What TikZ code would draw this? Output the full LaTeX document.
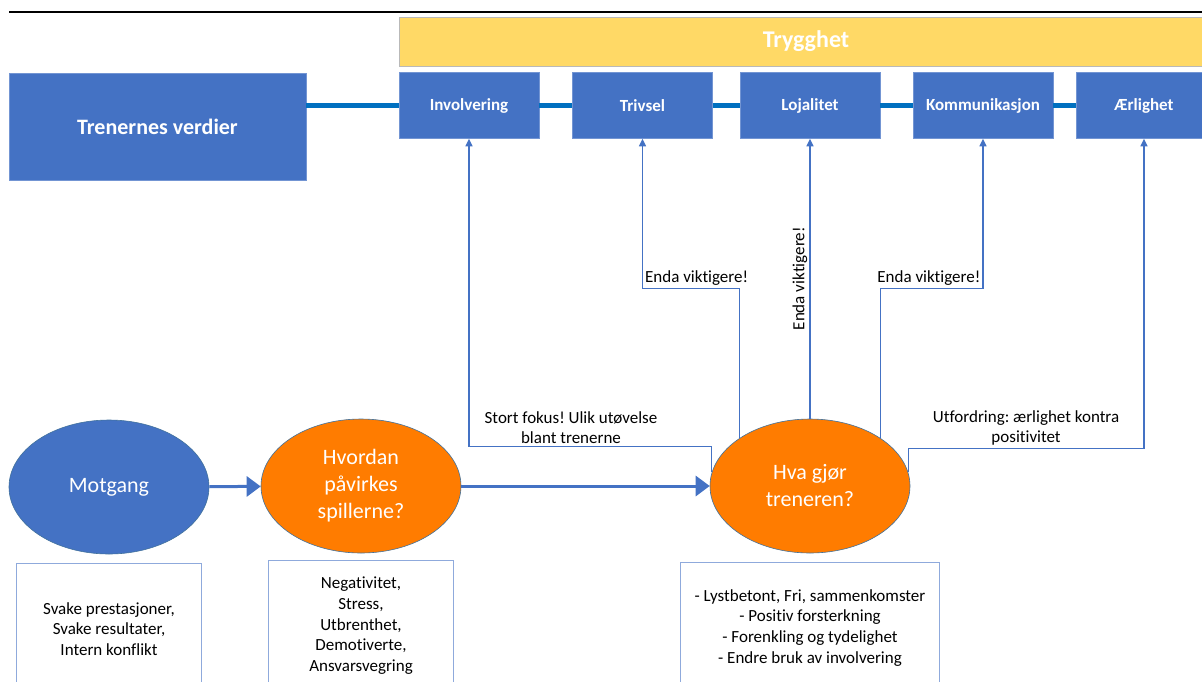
\documentclass[tikz,border=0pt]{standalone}
\usepackage{fontspec}
\setmainfont{Carlito}[Ligatures=NoCommon]
\usetikzlibrary{positioning, shapes.geometric, arrows.meta}
\definecolor{officeblue}{HTML}{4472C4}
\definecolor{barblue}{HTML}{0070C0}
\definecolor{gold}{HTML}{FFD966}
\definecolor{orng}{HTML}{FF7C00}
\definecolor{rimblue}{HTML}{41719C}
\definecolor{boxedge}{HTML}{8FAADC}
\frenchspacing

\begin{document}
\begin{tikzpicture}[x=1pt, y=-1pt,
    value/.style={rectangle, fill=officeblue, draw=officeblue!75!white, line width=0.6pt, text=white,
        font=\fontsize{17}{20}\selectfont\bfseries, minimum width=140pt, minimum height=66pt, inner sep=0pt},
    oval/.style={ellipse, draw=rimblue, line width=0.6pt, text=white, font=\fontsize{22}{27}\selectfont,
        align=center, minimum width=200pt, minimum height=134pt, inner sep=0pt},
    list/.style={rectangle, draw=boxedge, line width=1.1pt, fill=white, font=\fontsize{17}{20.7}\selectfont,
        align=center, minimum height=130pt, inner sep=0pt},
    remark/.style={font=\fontsize{17}{20}\selectfont, align=center, inner sep=2pt},
    link/.style={draw=officeblue, line width=1.3pt, -{Triangle[length=7.5pt,width=7pt]}},
    push/.style={draw=officeblue, line width=3pt, -{Triangle[length=14pt,width=20pt]}},
    bar/.style={draw=barblue, line width=5pt}]
    \useasboundingbox (0,0) rectangle (1202,681);
    \clip (0,0) rectangle (1202,681);
    \draw[line width=2pt] (9,12) -- (1202,12);
    % values on top
    \node[rectangle, fill=gold, draw=gray!55, line width=0.8pt, text=white, font=\fontsize{24}{28}\selectfont\bfseries,
        minimum width=814pt, minimum height=49pt] (tryg) at (806,41.5) {Trygghet};
    \node[value, minimum width=297pt, minimum height=107pt, font=\fontsize{22}{26}\selectfont\bfseries] (verdier) at (157.5,126.5) {Trenernes verdier};
    \node[value] (inv) at (469,105.5) {Involvering};
    \node[value] (triv) at (642.5,105.5) {Trivsel};
    \node[value] (loj) at (810,105.5) {Lojalitet};
    \node[value] (komm) at (983,105.5) {Kommunikasjon};
    \node[value, minimum width=136pt] (aer) at (1144,105.5) {Ærlighet};
    \draw[bar] (verdier.east |- inv.west) -- (inv.west);
    \foreach \a/\b in {inv/triv, triv/loj, loj/komm, komm/aer}
        \draw[bar] (\a) -- (\b);
    % chain at the bottom
    \node[oval, fill=officeblue] (mot) at (109,487) {Motgang};
    \node[oval, fill=orng] (hvo) at (361,486) {Hvordan\\påvirkes\\spillerne?};
    \node[oval, fill=orng] (hva) at (810,486) {Hva gjør\\treneren?};
    \node[list, minimum width=185pt, below=9pt of mot] (svak) {Svake prestasjoner,\\Svake resultater,\\Intern konflikt};
    \node[list, minimum width=185pt, below=7pt of hvo] (neg) {Negativitet,\\Stress,\\Utbrenthet,\\Demotiverte,\\Ansvarsvegring};
    \node[list, minimum width=259pt, below=9pt of hva] (tiltak) {- Lystbetont, Fri, sammenkomster\\- Positiv forsterkning\\- Forenkling og tydelighet\\- Endre bruk av involvering};
    \draw[push] (mot) -- (hvo);
    \draw[push] (hvo) -- (hva);
    % links up to the values
    \draw[link] (hva.172) -- ++(0,-26) -| node[remark, pos=0.29, anchor=south] {Stort fokus! Ulik utøvelse\\blant trenerne} (inv.south);
    \draw[link] (hva.146) -- ++(0,-150) -| node[remark, pos=0.5, anchor=south west] {Enda viktigere!} (triv.south);
    \draw[link] (hva.north) -- node[remark, rotate=90, anchor=south, pos=0.5] {Enda viktigere!} (loj.south);
    \draw[link] (hva.34) -- ++(0,-150) -| node[remark, pos=0.5, anchor=south east] {Enda viktigere!} (komm.south);
    \draw[link] (hva.8) -- ++(0,-24) -| node[remark, pos=0.25, anchor=south] {Utfordring: ærlighet kontra\\positivitet} (aer.south);
\end{tikzpicture}
\end{document}
